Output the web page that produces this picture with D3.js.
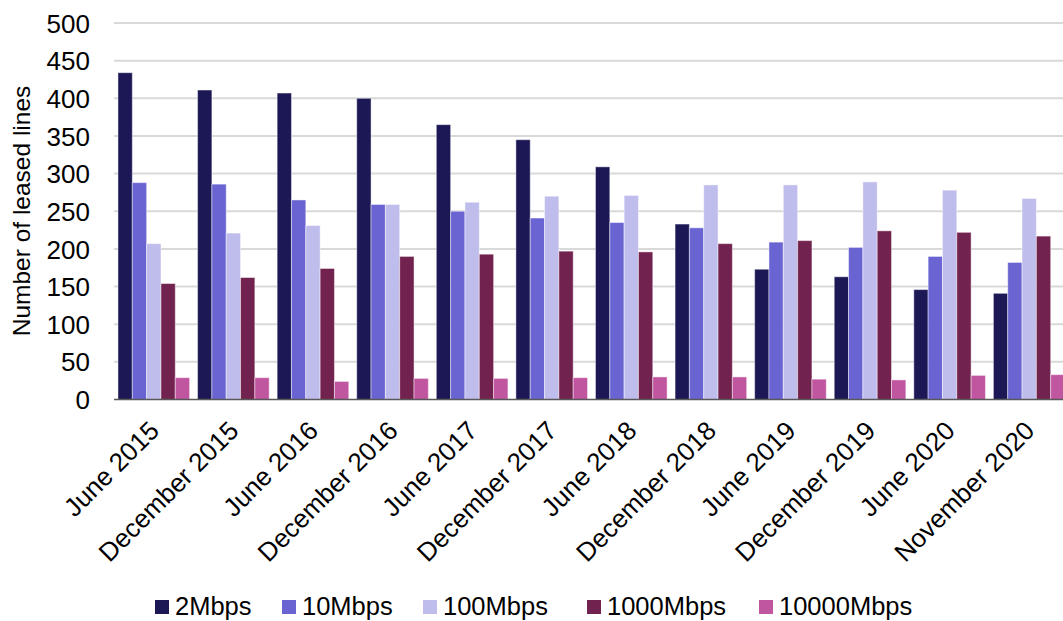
<!DOCTYPE html>
<html>
<head>
<meta charset="utf-8">
<script src="https://cdn.jsdelivr.net/npm/d3@7"></script>
<style>
  html, body { margin: 0; padding: 0; background: #ffffff; overflow: hidden; }
  svg { display: block; font-family: "Liberation Sans", Arial, sans-serif; }
</style>
</head>
<body>
<svg id="chart" width="1063" height="621"></svg>
<script>
// Leased lines by bandwidth, survey periods 2015–2020
const periods = ["June 2015", "December 2015", "June 2016", "December 2016", "June 2017",
  "December 2017", "June 2018", "December 2018", "June 2019", "December 2019",
  "June 2020", "November 2020"];

const seriesNames = ["2Mbps", "10Mbps", "100Mbps", "1000Mbps", "10000Mbps"];

const lines2M     = [434, 411, 407, 400, 365, 345, 309, 233, 173, 163, 146, 141];
const lines10M    = [288, 286, 265, 259, 250, 241, 235, 228, 209, 202, 190, 182];
const lines100M   = [207, 221, 231, 259, 262, 270, 271, 285, 285, 289, 278, 267];
const lines1000M  = [154, 162, 174, 190, 193, 197, 196, 207, 211, 224, 222, 217];
const lines10000M = [29, 29, 24, 28, 28, 29, 30, 30, 27, 26, 32, 33];

const yTicks = [0, 50, 100, 150, 200, 250, 300, 350, 400, 450, 500];

const seriesValues = [lines2M, lines10M, lines100M, lines1000M, lines10000M];
const colors = ["#1b1855", "#6964d2", "#bfbdec", "#72224f", "#c156a0"];

(function draw() {
  const svg = d3.select("#chart");
  const W = 1063;
  const plotLeft = 114, plotRight = 1069, plotTop = 23, plotBottom = 399.5;
  const labelSize = 26;

  const x0 = d3.scaleBand().domain(periods).range([plotLeft, plotRight])
    .paddingInner(0.1).paddingOuter(0.05);
  const x1 = d3.scaleBand().domain(seriesNames).range([0, x0.bandwidth()]);
  const y = d3.scaleLinear().domain([0, 500]).range([plotBottom, plotTop]);

  // Horizontal gridlines
  svg.append("g").selectAll("line").data(yTicks.filter(d => d > 0)).join("line")
    .attr("x1", plotLeft).attr("x2", W)
    .attr("y1", d => y(d)).attr("y2", d => y(d))
    .attr("stroke", "#d9d9d9").attr("stroke-width", 2);

  // Y tick labels
  const yAxis = d3.axisLeft(y).tickValues(yTicks).tickSize(0).tickPadding(0);
  const yg = svg.append("g").attr("transform", "translate(90,0)").call(yAxis);
  yg.select(".domain").remove();
  yg.selectAll("text").attr("font-size", labelSize).attr("fill", "#000")
    .attr("font-family", "'Liberation Sans', Arial, sans-serif").attr("dy", "0.35em");

  // Y axis title
  svg.append("text")
    .attr("transform", "translate(30,211) rotate(-90)")
    .attr("text-anchor", "middle")
    .attr("font-size", 24.5)
    .attr("fill", "#000")
    .text("Number of leased lines");

  // Bars
  const groups = svg.append("g").selectAll("g").data(periods).join("g")
    .attr("transform", d => `translate(${x0(d)},0)`);

  groups.selectAll("rect")
    .data((p, i) => seriesNames.map((s, k) => ({ s, k, v: seriesValues[k][i] })))
    .join("rect")
    .attr("x", d => x1(d.s))
    .attr("width", x1.bandwidth())
    .attr("y", d => y(d.v))
    .attr("height", d => y(0) - y(d.v))
    .attr("fill", d => colors[d.k])
    .attr("stroke", "rgba(255,255,255,0.45)")
    .attr("stroke-width", 1);

  // Baseline
  svg.append("line")
    .attr("x1", plotLeft).attr("x2", W)
    .attr("y1", plotBottom).attr("y2", plotBottom)
    .attr("stroke", "#595959").attr("stroke-width", 1.5);

  // Category labels, rotated
  svg.append("g").selectAll("text").data(periods).join("text")
    .attr("transform", d => `translate(${x0(d) + x0.bandwidth() / 2 - 6},${plotBottom + 20}) rotate(-45)`)
    .attr("text-anchor", "end")
    .attr("dy", "0.7em")
    .attr("font-size", labelSize)
    .attr("fill", "#000")
    .text(d => d);

  // Legend
  const legendX = [155, 282, 423, 587, 759];
  const legend = svg.append("g").selectAll("g").data(seriesNames).join("g")
    .attr("transform", (d, i) => `translate(${legendX[i]},600)`);
  legend.append("rect").attr("width", 14).attr("height", 14)
    .attr("fill", (d, i) => colors[i]);
  legend.append("text").attr("x", 20).attr("y", 14.5)
    .attr("font-size", 25.5).attr("fill", "#000").text(d => d);
})();
</script>
</body>
</html>
